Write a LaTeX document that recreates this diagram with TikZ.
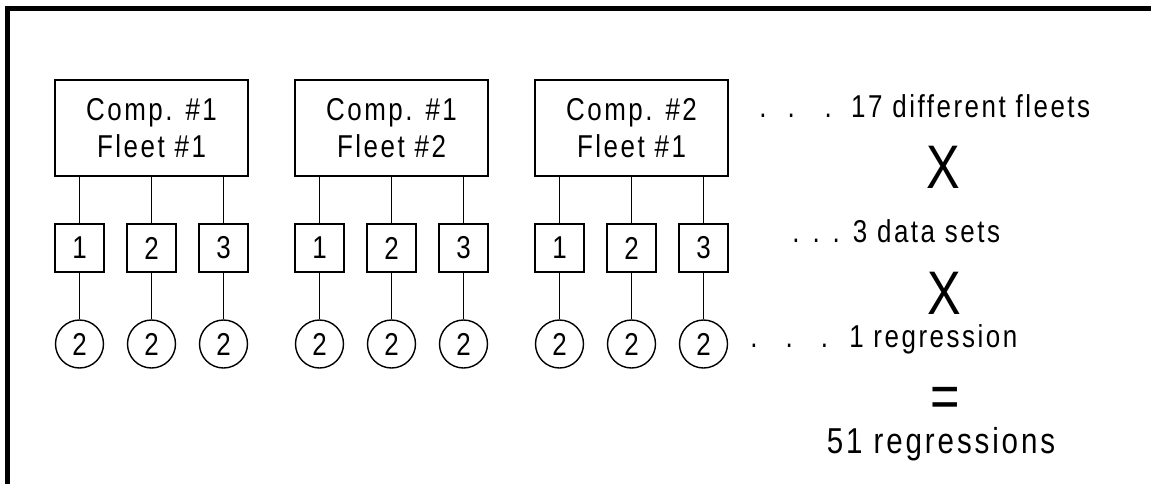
\documentclass[tikz,border=0pt]{standalone}
\usepackage{fontspec}
\setmainfont{Liberation Sans}[FakeStretch=0.82,LetterSpace=8]
\tikzset{
  fbox/.style={draw,line width=0.8pt,minimum width=3.86cm,minimum height=1.92cm,
               align=center,inner sep=0pt,font=\fontsize{18}{21}\selectfont},
  sbox/.style={draw,line width=0.8pt,minimum width=0.98cm,minimum height=0.96cm,
               inner sep=0pt,font=\fontsize{18}{21}\selectfont},
  rcirc/.style={draw,circle,line width=0.8pt,minimum size=0.96cm,
               inner sep=0pt,font=\fontsize{18}{21}\selectfont},
  wire/.style={line width=0.8pt},
  lbl/.style={inner sep=0pt,font=\fontsize{18}{21}\selectfont},
  bigsym/.style={inner sep=0pt,font=\fontsize{35}{40}\selectfont},
}
\begin{document}
\begin{tikzpicture}[x=0.02cm,y=-0.02cm]
\useasboundingbox (0,0) rectangle (1151,484);
% frame, cut off at right and bottom
\draw[line width=2.8pt] (7.5,484) -- (7.5,8.3) -- (1151,8.3);
% three fleets, each with three data sets and one regression per set
\foreach \i/\c/\f/\x in {1/1/1/151.5,2/1/2/391.5,3/2/1/631.5}{
  \node[fbox] (fleet\i) at (\x,128) {Comp. \#\c\\Fleet \#\f};
  \foreach \j in {1,2,3}{
    \node[sbox] (set\i\j) at (\x+\j*72-144,248) {\j};
    \node[rcirc] (reg\i\j) at (\x+\j*72-144,344) {2};
    \draw[wire] (set\i\j.north) -- (set\i\j.north |- fleet\i.south);
    \draw[wire] (set\i\j) -- (reg\i\j);}}
% counting on the right
\node[lbl,anchor=base west] (nfleets) at (759,117) {.\hspace{12pt}.\hspace{17pt}.\hspace{11pt}17 different fleets};
\node[bigsym,anchor=base] (times1) at (943.5,188) {X};
\node[lbl,anchor=base west] (nsets) at (792,242) {. . . 3 data sets};
\node[bigsym,anchor=base] (times2) at (944,314) {X};
\node[lbl,anchor=base west] (nreg) at (750,347) {.\hspace{16pt}.\hspace{16pt}.\hspace{12pt}1 regression};
\node[bigsym,anchor=base] (equals) at (945,417) {=};
\node[lbl,anchor=base,font=\fontsize{20.5}{24}\selectfont] (total) at (941,453) {51 regressions};
\end{tikzpicture}
\end{document}
